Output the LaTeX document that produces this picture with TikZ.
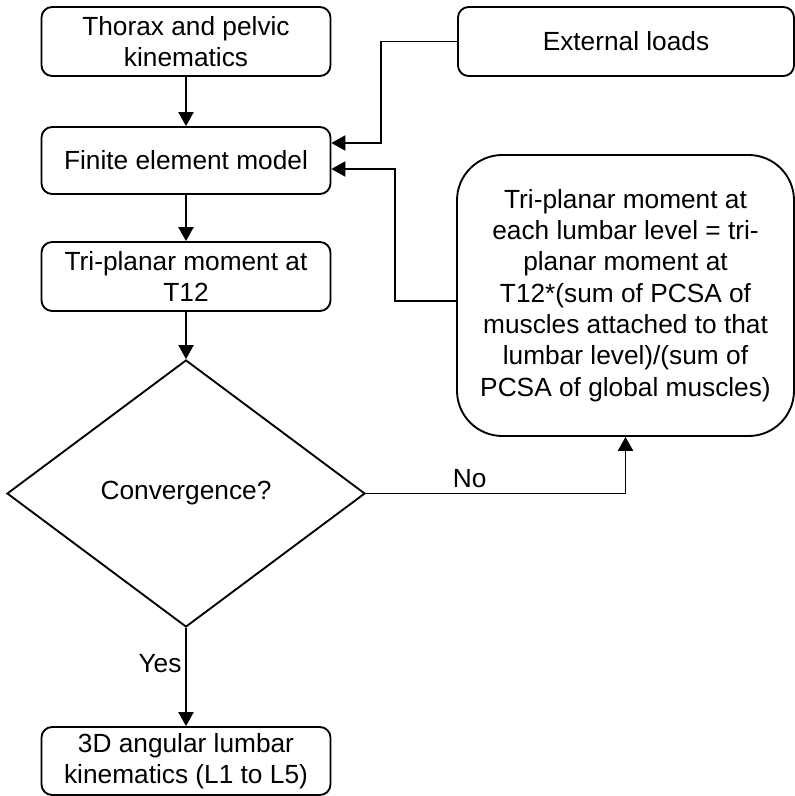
\documentclass[tikz,border=0pt]{standalone}
\usepackage{fontspec}
\setmainfont{Liberation Sans}
\usetikzlibrary{arrows.meta,shapes.geometric}

\begin{document}
\begin{tikzpicture}[
  x=0.75pt, y=-0.75pt,
  font=\fontsize{19.7}{23.5}\selectfont,
  stage/.style={draw=black, line width=1.4pt, rounded corners=8pt, align=center,
                minimum width=216.75pt, minimum height=51.75pt, inner sep=2pt},
  bigbox/.style={draw=black, line width=1.4pt, rounded corners=34pt, align=center,
                 minimum width=252.75pt, minimum height=210.75pt, inner sep=2pt},
  test/.style={draw=black, diamond, line width=1.4pt, inner sep=0pt,
               minimum width=268.5pt, minimum height=200.25pt},
  conn/.style={draw=black, line width=0.8pt, -{Triangle[length=10.5pt,width=11.5pt]}}
]
\useasboundingbox (0,0) rectangle (795,796);
\node[stage] (kin) at (186,41.5) {Thorax and pelvic\\kinematics};
\node[stage, minimum width=252pt] (ext) at (626,41.5) {External loads};
\node[stage, minimum height=50.25pt] (fem) at (186,160.5) {Finite element model};
\draw[conn] (kin) -- (fem);
\node[stage] (t12) at (186,276.5) {Tri-planar moment at\\T12};
\draw[conn] (fem) -- (t12);
\node[test] (conv) at (186,493.5) {Convergence?};
\draw[conn] (t12) -- (conv.north);
\node[stage, minimum height=51pt] (res) at (186,761) {3D angular lumbar\\kinematics (L1 to L5)};
\draw[conn] (conv.south) -- node[pos=0.36, left, inner sep=3pt] {Yes} (res.north);
\node[bigbox] (mom) at (625.5,295.5) {Tri-planar moment at\\each lumbar level = tri-\\planar moment at\\T12*(sum of PCSA of\\muscles attached to that\\lumbar level)/(sum of\\PCSA of global muscles)};
\draw[conn] (conv.east) -| node[pos=0.2, above, inner sep=4pt] {No} (mom.south);
\coordinate (k1) at (381,143);
\draw[conn] (ext.west) -| (k1) -- (k1 -| fem.east);
\coordinate (k2) at (395,301);
\coordinate (k3) at (395,169);
\draw[conn] (mom.west |- k2) -- (k2) -- (k3) -- (k3 -| fem.east);
\end{tikzpicture}
\end{document}
